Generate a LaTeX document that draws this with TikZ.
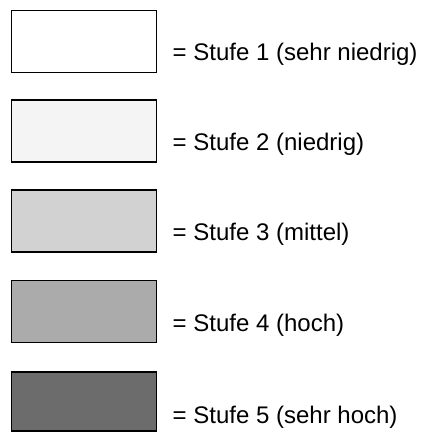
\documentclass[tikz,border=0pt]{standalone}
\usepackage{fontspec}
\setmainfont{Liberation Sans}
\usetikzlibrary{patterns}
\definecolor{lvA}{HTML}{FFFFFF}
\definecolor{lvB}{HTML}{F4F4F4}
\definecolor{lvC}{HTML}{D2D2D2}
\definecolor{lvD}{HTML}{ABABAB}
\definecolor{lvE}{HTML}{6C6C6C}
\begin{document}
\begin{tikzpicture}[x=1pt,y=1pt,
  box/.style={draw=black,line width=1.6pt,line join=miter,minimum width=145pt,minimum height=62pt,inner sep=0pt,outer sep=0pt},
  lbl/.style={anchor=base west,inner sep=0pt,font=\fontsize{24}{28}\selectfont}]
\useasboundingbox (0,0) rectangle (433,-432);
\node[box,fill=lvA] (b1) at (84,-41.5) {};
\node[box,fill=lvB] (b2) at (84,-131) {};
\node[box,fill=lvC] (b3) at (84,-221) {};
\node[box,fill=lvD] (b4) at (84,-311.5) {};
\node[box,fill=lvE,minimum height=59pt] (b5) at (84,-401.5) {};
\node[lbl] (t1) at (172.5,-60.7) {= Stufe 1 (sehr niedrig)};
\node[lbl] (t2) at (172.5,-150.3) {= Stufe 2 (niedrig)};
\node[lbl] (t3) at (172.5,-240.7) {= Stufe 3 (mittel)};
\node[lbl] (t4) at (172.5,-331) {= Stufe 4 (hoch)};
\node[lbl] (t5) at (172.5,-423) {= Stufe 5 (sehr hoch)};
\end{tikzpicture}
\end{document}
